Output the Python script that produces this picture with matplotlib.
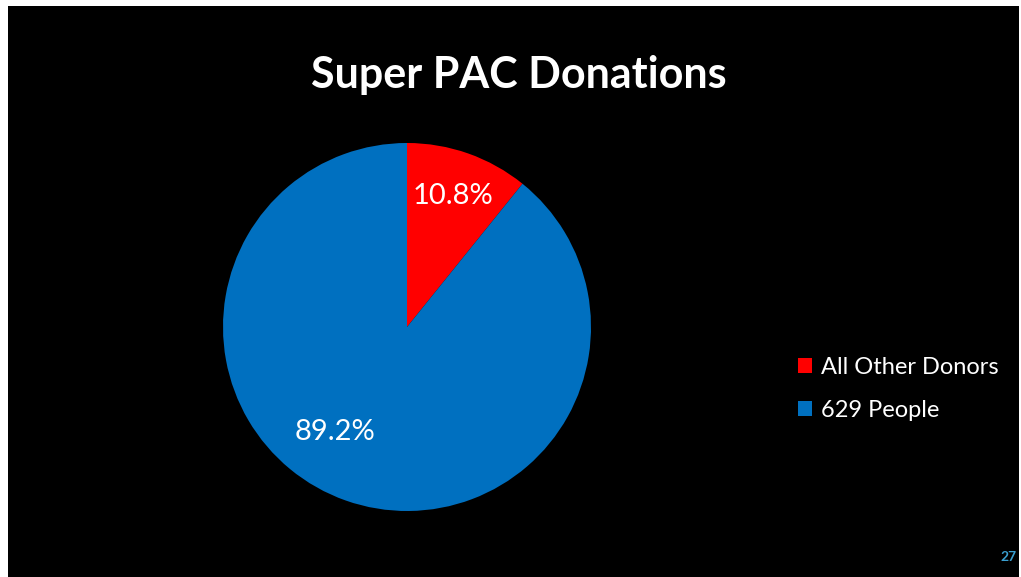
import matplotlib.pyplot as plt
from matplotlib.patches import Rectangle

labels = ["All Other Donors", "629 People"]
shares = [10.8, 89.2]
colors = ["#FF0000", "#0070C0"]

# where each percentage label sits, in units of the pie radius
label_pos = [(0.25, 0.71), (-0.39, -0.57)]

plt.rcParams['font.family'] = ['Lato', 'DejaVu Sans']

fig = plt.figure(figsize=(10.21, 5.77), dpi=100)
fig.patch.set_facecolor('white')

# black slide background inside a thin white margin
fig.patches.append(Rectangle((8 / 1021, 0), 1011 / 1021, 571 / 577,
                             transform=fig.transFigure, facecolor='black',
                             edgecolor='none', zorder=-1))

ax = fig.add_axes([(407 - 184) / 1021, (577 - 327 - 184) / 577,
                   368 / 1021, 368 / 577])
ax.set_facecolor('none')
wedges, texts = ax.pie(shares, colors=colors, startangle=90, counterclock=False,
                       wedgeprops=dict(linewidth=0))
ax.set_xlim(-1, 1)
ax.set_ylim(-1, 1)
ax.set_aspect('equal')

for (x, y), s in zip(label_pos, shares):
    ax.text(x, y, f"{s}%", color='white', fontsize=21, ha='center', va='center')

fig.text(519 / 1021, 1 - 75 / 577, "Super PAC Donations", color='white',
         fontsize=31, fontweight='bold', ha='center', va='center')

leg = fig.legend(wedges, labels, loc='center left',
                 bbox_to_anchor=(777 / 1021, 1 - 389 / 577),
                 frameon=False, fontsize=17, labelcolor='white',
                 handlelength=0.6, handleheight=0.6, handletextpad=0.35,
                 labelspacing=0.95)

fig.text(1009 / 1021, 1 - 557 / 577, "27", color='#3A9FD0', fontsize=10,
         fontweight='bold', ha='center', va='center')

fig.savefig('out.png', dpi=100, facecolor=fig.get_facecolor())
